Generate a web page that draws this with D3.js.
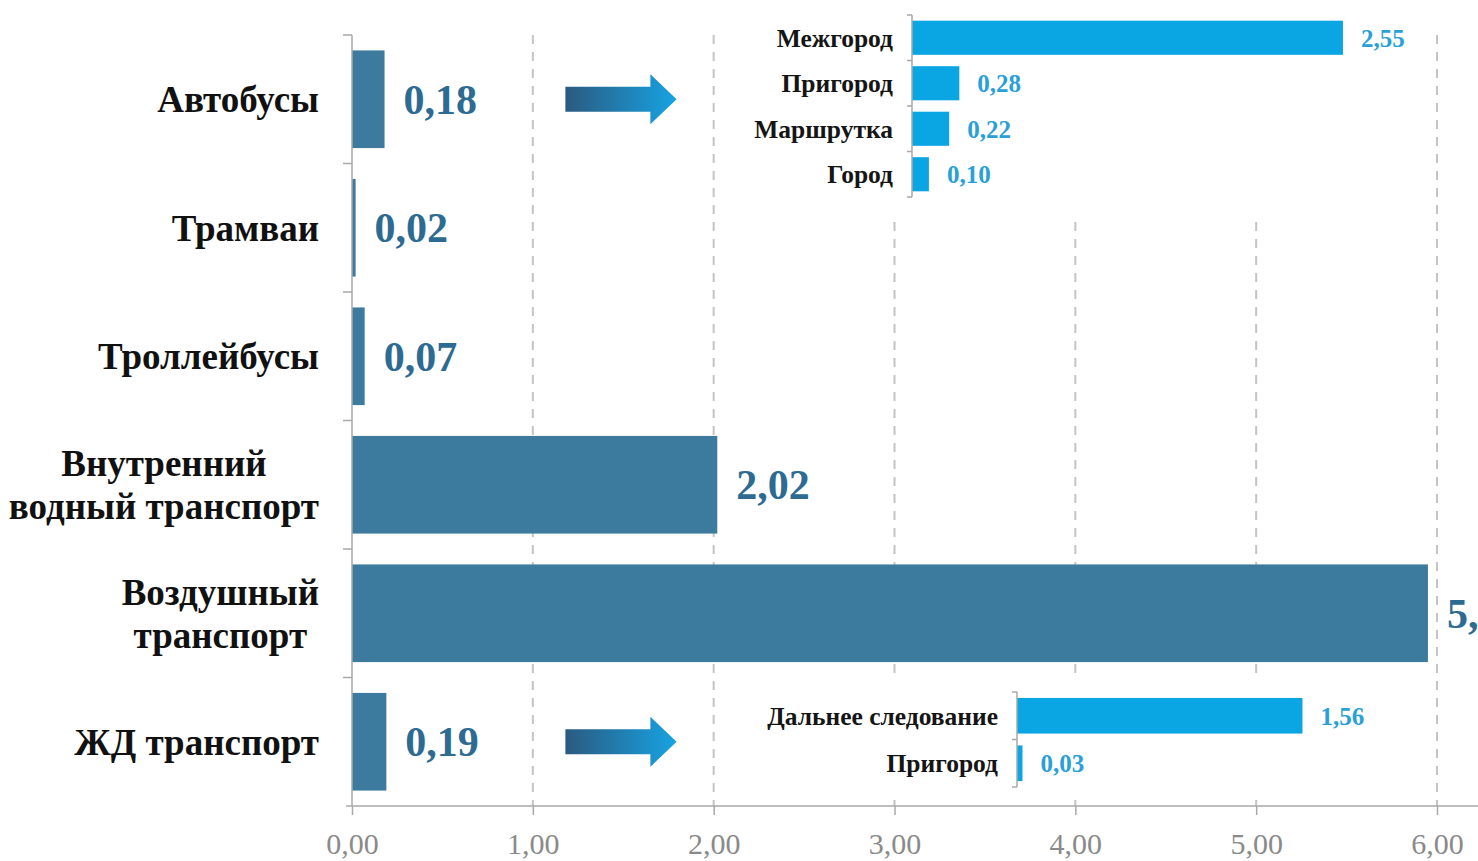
<!DOCTYPE html>
<html>
<head>
<meta charset="utf-8">
<script src="https://cdn.jsdelivr.net/npm/d3@7"></script>
<style>
  html, body { margin: 0; padding: 0; background: #fff; overflow: hidden; }
  svg { display: block; }
  text { font-family: "Liberation Serif", "Times New Roman", serif; }
</style>
</head>
<body>
<svg id="chart" width="1478" height="861"></svg>
<script>
// ---- data ----
const categories = ["Автобусы", "Трамваи", "Троллейбусы", "Внутренний водный транспорт", "Воздушный транспорт", "ЖД транспорт"];
const categoryLines = [["Автобусы"], ["Трамваи"], ["Троллейбусы"], ["Внутренний", "водный транспорт"], ["Воздушный", "транспорт"], ["ЖД транспорт"]];
const values = [0.18, 0.02, 0.07, 2.02, 5.95, 0.19];

const busSub = ["Межгород", "Пригород", "Маршрутка", "Город"];
const busSubValues = [2.55, 0.28, 0.22, 0.10];

const railSub = ["Дальнее следование", "Пригород"];
const railSubValues = [1.56, 0.03];

const xTicks = [0, 1, 2, 3, 4, 5, 6];

// ---- styles ----
const mainBar = "#3c7b9e";
const mainLabel = "#2d6b92";
const subBar = "#0aa5e3";
const subLabel = "#2aa0d8";
const gridColor = "#c4c4c4";
const axisColor = "#a8a8a8";

const fmt = v => d3.format(".2f")(v).replace(".", ",");

const svg = d3.select("#chart");

// ---- main scales ----
const x = d3.scaleLinear().domain([0, 6]).range([352, 1437]);
const y = d3.scaleBand().domain(categories).range([35, 806]).paddingInner(0.24).paddingOuter(0.12);

// gradient for arrows
const defs = svg.append("defs");
const grad = defs.append("linearGradient").attr("id", "arrowGrad").attr("x1", "0%").attr("x2", "100%").attr("y1", "0%").attr("y2", "0%");
grad.append("stop").attr("offset", "0%").attr("stop-color", "#2b5a80");
grad.append("stop").attr("offset", "100%").attr("stop-color", "#17a3e2");

// gridlines
svg.append("g").selectAll("line").data(xTicks.filter(d => d > 0)).join("line")
  .attr("x1", d => x(d)).attr("x2", d => x(d))
  .attr("y1", y.range()[0]).attr("y2", y.range()[1])
  .attr("stroke", gridColor).attr("stroke-width", 2).attr("stroke-dasharray", "9,8");

// main bars
svg.append("g").selectAll("rect").data(categories).join("rect")
  .attr("x", x(0))
  .attr("y", d => y(d))
  .attr("width", (d, i) => x(values[i]) - x(0))
  .attr("height", y.bandwidth())
  .attr("fill", mainBar);

// main value labels
svg.append("g").selectAll("text").data(categories).join("text")
  .attr("x", (d, i) => x(values[i]) + 19)
  .attr("y", d => y(d) + y.bandwidth() / 2)
  .attr("dy", "0.35em")
  .attr("font-size", 42).attr("font-weight", "bold")
  .attr("fill", mainLabel)
  .text((d, i) => fmt(values[i]));

// category labels
const catG = svg.append("g");
categories.forEach((c, i) => {
  const lines = categoryLines[i];
  const cy = y(c) + y.bandwidth() / 2;
  const lh = 43;
  const g = catG.append("g");
  const texts = lines.map((ln, j) => g.append("text")
    .attr("y", cy + (j - (lines.length - 1) / 2) * lh)
    .attr("dy", "0.35em")
    .attr("font-size", 37).attr("font-weight", "bold").attr("fill", "#111")
    .attr("text-anchor", "middle")
    .text(ln));
  const maxW = d3.max(texts, t => t.node().getComputedTextLength());
  texts.forEach(t => t.attr("x", 319 - maxW / 2));
});

// left axis
svg.append("line").attr("x1", x(0)).attr("x2", x(0)).attr("y1", y.range()[0]).attr("y2", y.range()[1])
  .attr("stroke", axisColor).attr("stroke-width", 1.5);
svg.append("g").selectAll("line").data(d3.range(categories.length)).join("line")
  .attr("x1", x(0) - 9).attr("x2", x(0))
  .attr("y1", i => y.range()[0] + i * y.step()).attr("y2", i => y.range()[0] + i * y.step())
  .attr("stroke", axisColor).attr("stroke-width", 1.5);

// bottom axis
const xAxisG = svg.append("g").attr("transform", `translate(0,${y.range()[1]})`)
  .call(d3.axisBottom(x).tickValues(xTicks).tickSize(9).tickFormat(fmt));
xAxisG.select(".domain").remove();
xAxisG.selectAll(".tick line").attr("stroke", axisColor).attr("stroke-width", 1.5);
xAxisG.selectAll(".tick text").attr("y", 48).attr("dy", 0)
  .attr("font-size", 30).attr("fill", "#8a8a8a")
  .attr("font-family", "'Liberation Serif', 'Times New Roman', serif");
svg.append("line").attr("x1", x(0) - 6).attr("x2", 1478).attr("y1", y.range()[1]).attr("y2", y.range()[1])
  .attr("stroke", axisColor).attr("stroke-width", 1.5);

// ---- arrows ----
function arrow(cat) {
  const cy = y(cat) + y.bandwidth() / 2;
  const x0 = x(1.18), xh = x(1.65), x1 = x(1.795);
  const pts = [[x0, cy - 12.5], [xh, cy - 12.5], [xh, cy - 25], [x1, cy], [xh, cy + 25], [xh, cy + 12.5], [x0, cy + 12.5]];
  svg.append("path").attr("d", d3.line()(pts) + "Z").attr("fill", "url(#arrowGrad)");
}
arrow("Автобусы");
arrow("ЖД транспорт");

// ---- inset helper ----
function inset(opts) {
  const g = svg.append("g");
  g.append("rect").attr("x", opts.bg[0]).attr("y", opts.bg[1]).attr("width", opts.bg[2]).attr("height", opts.bg[3]).attr("fill", "#fff");
  const sx = d3.scaleLinear().domain([0, 1]).range([opts.x0, opts.x0 + opts.pxPerUnit]);
  const sy = d3.scaleBand().domain(opts.cats).range(opts.yRange).paddingInner(0.25).paddingOuter(0.125);
  g.selectAll("rect.bar").data(opts.cats).join("rect").attr("class", "bar")
    .attr("x", sx(0)).attr("y", d => sy(d))
    .attr("width", (d, i) => Math.max(1.5, sx(opts.vals[i]) - sx(0)))
    .attr("height", sy.bandwidth())
    .attr("fill", subBar);
  g.selectAll("text.val").data(opts.cats).join("text").attr("class", "val")
    .attr("x", (d, i) => sx(opts.vals[i]) + 18)
    .attr("y", d => sy(d) + sy.bandwidth() / 2).attr("dy", "0.35em")
    .attr("font-size", 25).attr("font-weight", "bold").attr("fill", subLabel)
    .text((d, i) => fmt(opts.vals[i]));
  g.selectAll("text.cat").data(opts.cats).join("text").attr("class", "cat")
    .attr("x", sx(0) - 19)
    .attr("y", d => sy(d) + sy.bandwidth() / 2).attr("dy", "0.35em")
    .attr("text-anchor", "end")
    .attr("font-size", 25.5).attr("font-weight", "bold").attr("fill", "#151515")
    .text(d => d);
  g.append("line").attr("x1", sx(0)).attr("x2", sx(0)).attr("y1", opts.yRange[0]).attr("y2", opts.yRange[1])
    .attr("stroke", axisColor).attr("stroke-width", 1.5);
  g.selectAll("line.tk").data(d3.range(opts.cats.length + 1)).join("line").attr("class", "tk")
    .attr("x1", sx(0) - 5).attr("x2", sx(0))
    .attr("y1", i => opts.yRange[0] + i * sy.step()).attr("y2", i => opts.yRange[0] + i * sy.step())
    .attr("stroke", axisColor).attr("stroke-width", 1.5);
}

inset({ cats: busSub, vals: busSubValues, x0: 912, pxPerUnit: 169, yRange: [15, 197], bg: [745, 0, 675, 222] });
inset({ cats: railSub, vals: railSubValues, x0: 1017, pxPerUnit: 183, yRange: [692, 787], bg: [760, 676, 660, 124] });
</script>
</body>
</html>
